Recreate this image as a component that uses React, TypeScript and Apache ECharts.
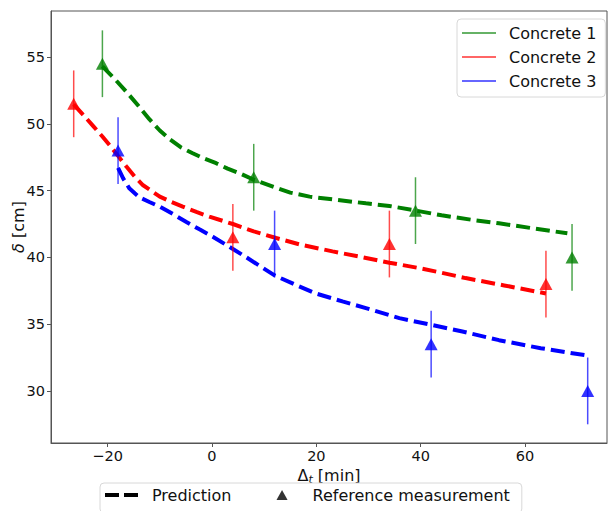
import React, { useEffect, useRef } from "react";
import * as echarts from "echarts";

// ---- data ----
const xTicks = [-20, 0, 20, 40, 60];
const yTicks = [30, 35, 40, 45, 50, 55];

const seriesNames = ["Concrete 1", "Concrete 2", "Concrete 3"];
const seriesColors = ["#008000", "#ff0000", "#0000ff"];

// prediction curves
const pred1X = [-21, -18.5, -16.4, -14, -12, -10, -8.1, -6, -3.7, -1.5, 0.8, 3, 5.3, 7.8, 12, 15, 18.7, 24, 29.5, 34, 38.4, 44, 50, 55, 62, 68.1];
const pred1Y = [54.3, 53.3, 52.4, 51.3, 50.35, 49.5, 48.85, 48.25, 47.8, 47.4, 47.05, 46.65, 46.3, 45.85, 45.25, 44.85, 44.55, 44.3, 44.05, 43.85, 43.55, 43.15, 42.8, 42.55, 42.15, 41.8];

const pred2X = [-26.5, -24.5, -22.8, -21, -19.6, -18, -16.4, -14.8, -13.2, -11.5, -10, -7.8, -5.6, -3, -0.5, 4, 8, 12.3, 17, 23.1, 29, 34, 39.7, 44, 48.6, 56, 64];
const pred2Y = [51.45, 50.6, 49.85, 49.05, 48.4, 47.6, 46.8, 46.05, 45.4, 44.95, 44.55, 44.15, 43.8, 43.4, 43.05, 42.5, 41.95, 41.45, 40.95, 40.45, 40.0, 39.6, 39.2, 38.85, 38.45, 37.9, 37.3];

const pred3X = [-18, -17, -15.8, -14.8, -13.9, -12, -10, -7.5, -4.9, -2.4, 0.15, 3.3, 6, 9, 12, 16, 19.9, 25, 29.5, 35.9, 42, 48, 55, 63, 71.9];
const pred3Y = [46.7, 45.9, 45.15, 44.8, 44.5, 44.15, 43.8, 43.25, 42.65, 42.1, 41.55, 40.8, 40.15, 39.4, 38.65, 37.95, 37.3, 36.7, 36.2, 35.45, 34.95, 34.45, 33.8, 33.2, 32.65];

// reference measurements
const meas1X = [-21, 8, 39, 69];
const meas1Y = [54.5, 46, 43.5, 40];
const meas2X = [-26.5, 4, 34, 64];
const meas2Y = [51.5, 41.5, 41, 38];
const meas3X = [-18, 12, 42, 72];
const meas3Y = [48, 41, 33.5, 30];
const measErr = [2.5, 2.5, 2.5, 2.5];

const predX = [pred1X, pred2X, pred3X];
const predY = [pred1Y, pred2Y, pred3Y];
const measX = [meas1X, meas2X, meas3X];
const measY = [meas1Y, meas2Y, meas3Y];

const FONT = "DejaVu Sans";
const fmtMinus = (v: number) => String(v).replace("-", "\u2212");

export default function App() {
  const ref = useRef<HTMLDivElement>(null);
  useEffect(() => {
    if (!ref.current) return;
    const chart = echarts.init(ref.current, undefined, { renderer: "svg" });

    const series: any[] = [];
    for (let i = 0; i < 3; i++) {
      series.push({
        name: "pred" + i,
        type: "line",
        data: predX[i].map((x, k) => [x, predY[i][k]]),
        showSymbol: false,
        symbol: "none",
        lineStyle: { color: seriesColors[i], width: 4, type: [14, 6] },
        z: 2,
      });
    }
    for (let i = 0; i < 3; i++) {
      const color = seriesColors[i];
      series.push({
        name: seriesNames[i],
        type: "custom",
        data: measX[i].map((x, k) => [x, measY[i][k], measErr[k]]),
        itemStyle: { color, opacity: 0.7 },
        renderItem: (params: any, api: any) => {
          const x = api.value(0);
          const y = api.value(1);
          const e = api.value(2);
          const p1 = api.coord([x, y - e]);
          const p2 = api.coord([x, y + e]);
          return {
            type: "line",
            shape: { x1: p1[0], y1: p1[1], x2: p2[0], y2: p2[1] },
            style: { stroke: color, lineWidth: 1.5, opacity: 0.7 },
          };
        },
        z: 3,
      });
      series.push({
        name: "meas" + i,
        type: "scatter",
        data: measX[i].map((x, k) => [x, measY[i][k]]),
        symbol: "triangle",
        symbolSize: [13, 12],
        itemStyle: { color },
        z: 4,
      });
    }
    series.push({
      name: "Prediction",
      type: "line",
      data: [],
      itemStyle: { color: "#000" },
      lineStyle: { color: "#000" },
    });
    series.push({
      name: "Reference measurement",
      type: "scatter",
      data: [],
      itemStyle: { color: "#000" },
    });

    chart.setOption({
      animation: false,
      textStyle: { fontFamily: FONT },
      grid: {
        left: 51,
        top: 11,
        right: 2,
        bottom: 68,
        show: true,
        borderColor: "#555",
        borderWidth: 1,
        outerBoundsMode: "none",
        containLabel: false,
      },
      xAxis: {
        type: "value",
        min: -30.85,
        max: 75.7,
        name: "\u0394{s|t} [min]",
        nameLocation: "middle",
        nameGap: 20,
        nameTextStyle: {
          fontFamily: FONT,
          fontSize: 16,
          color: "#111",
          rich: {
            s: { fontFamily: FONT, fontSize: 11, fontStyle: "italic", color: "#111", padding: [7, 0, 0, 0] },
          },
        },
        axisLine: { show: true, onZero: false, lineStyle: { color: "#555", width: 1 } },
        axisTick: { show: true, length: 4, customValues: xTicks, lineStyle: { color: "#555" } },
        axisLabel: {
          customValues: xTicks,
          formatter: fmtMinus,
          fontFamily: FONT,
          fontSize: 14.5,
          color: "#111",
          margin: 5,
        },
        splitLine: { show: false },
      },
      yAxis: {
        type: "value",
        min: 26.1,
        max: 58.45,
        name: "{i|\u03b4} [cm]",
        nameLocation: "middle",
        nameRotate: 90,
        nameGap: 25,
        nameMoveOverlap: false,
        nameTextStyle: {
          fontFamily: FONT,
          fontSize: 16,
          color: "#111",
          rich: { i: { fontFamily: FONT, fontSize: 16, fontStyle: "italic", color: "#111" } },
        },
        axisLine: { show: true, onZero: false, lineStyle: { color: "#555", width: 1 } },
        axisTick: { show: true, length: 4, customValues: yTicks, lineStyle: { color: "#555" } },
        axisLabel: {
          customValues: yTicks,
          formatter: fmtMinus,
          fontFamily: FONT,
          fontSize: 14.5,
          color: "#111",
          margin: 6,
        },
        splitLine: { show: false },
      },
      legend: [
        {
          orient: "vertical",
          left: 457,
          top: 19,
          padding: [4, 9, 6, 5],
          itemWidth: 34,
          itemHeight: 1.5,
          itemGap: 4,
          icon: "rect",
          backgroundColor: "#fff",
          borderColor: "#d8d8d8",
          borderWidth: 1,
          borderRadius: 4,
          selectedMode: false,
          textStyle: { fontFamily: FONT, fontSize: 16, color: "#111", lineHeight: 20, padding: [0, 0, 0, 8] },
          data: seriesNames.map((n, i) => ({
            name: n,
            icon: "rect",
            itemStyle: { color: seriesColors[i], opacity: 0.8 },
          })),
        },
        {
          orient: "horizontal",
          left: 100,
          top: 483,
          padding: [2, 12, 8, 5],
          itemWidth: 33,
          itemHeight: 10,
          itemGap: 45,
          symbolKeepAspect: true,
          backgroundColor: "#fff",
          borderColor: "#d8d8d8",
          borderWidth: 1,
          borderRadius: 4,
          selectedMode: false,
          textStyle: { fontFamily: FONT, fontSize: 16, color: "#111", lineHeight: 20, padding: [0, 0, 0, 9] },
          data: [
            { name: "Prediction", icon: "path://M0,0h14v4h-14zM19,0h14v4h-14z", itemStyle: { color: "#000" } },
            { name: "Reference measurement", icon: "path://M5,0L10,9L0,9Z", itemStyle: { color: "#000" } },
          ],
        },
      ],
      series,
    });
    return () => chart.dispose();
  }, []);
  return (
    <div
      ref={ref}
      style={{ position: "absolute", left: 0, top: 0, width: 609, height: 511, background: "#fff" }}
    />
  );
}
